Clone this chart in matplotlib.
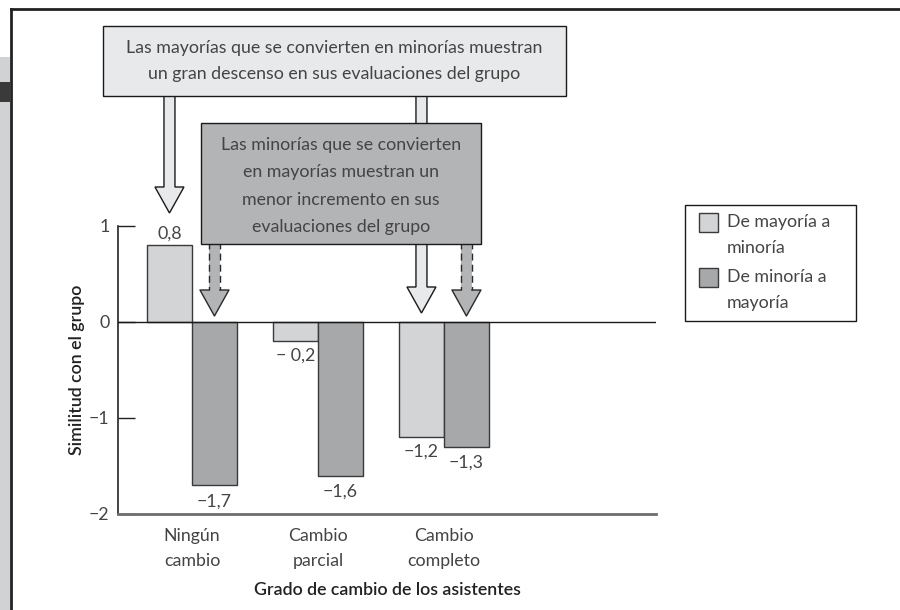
import numpy as np
import matplotlib.pyplot as plt
from matplotlib.patches import Rectangle, Polygon
from matplotlib.transforms import Affine2D
from matplotlib.lines import Line2D

plt.rcParams['font.family'] = ['Lato', 'DejaVu Sans']

# datos
categorias = ['Ningún\ncambio', 'Cambio\nparcial', 'Cambio\ncompleto']
series = ['De mayoría a\nminoría', 'De minoría a\nmayoría']
may_a_min = [0.8, -0.2, -1.2]
min_a_may = [-1.7, -1.6, -1.3]
etiq_may_a_min = ['0,8', '\u2212 0,2', '\u22121,2']
etiq_min_a_may = ['\u22121,7', '\u22121,6', '\u22121,3']
yticks = [-2, -1, 0, 1]
ytick_labels = ['\u22122', '\u22121', '0', '1']

texto_1 = ('Las mayorías que se convierten en minorías muestran\n'
           'un gran descenso en sus evaluaciones del grupo')
texto_2 = ('Las minorías que se convierten\nen mayorías muestran un\n'
           'menor incremento en sus\nevaluaciones del grupo')

LIGHT = '#d3d4d6'
DARK = '#a7a8aa'
BOX1 = '#e8e9ea'
BOX2 = '#b3b4b6'
EDGE = '#3a3a3a'
TXT = '#444444'
FS = 12.8

W, H = 900, 610
fig = plt.figure(figsize=(W / 100, H / 100), dpi=100)
# coordenadas en pixeles, y hacia abajo
pix = Affine2D().scale(1 / W, -1 / H).translate(0, 1) + fig.transFigure

ax = fig.add_axes([118 / W, 1 - 514 / H, 538 / W, 288 / H])
x = np.arange(len(categorias))
w = 0.357
ax.bar(x - w / 2, may_a_min, w, color=LIGHT, edgecolor=EDGE, lw=1, zorder=2)
ax.bar(x + w / 2, min_a_may, w, color=DARK, edgecolor=EDGE, lw=1, zorder=2)
ax.set_xlim(-0.587, 3.683)
ax.set_ylim(-2, 1)
ax.axhline(0, color='#1a1a1a', lw=1, zorder=3)

for xi, v, s in zip(x - w / 2, may_a_min, etiq_may_a_min):
    off = 8.5 if v > 0 else -10.5
    ax.annotate(s, (xi, v), xytext=(0, off), textcoords='offset points',
                ha='center', va='center', fontsize=FS, color=TXT)
for xi, v, s in zip(x + w / 2, min_a_may, etiq_min_a_may):
    ax.annotate(s, (xi, v), xytext=(0, -11.5), textcoords='offset points',
                ha='center', va='center', fontsize=FS, color=TXT)

for sp in ['top', 'right']:
    ax.spines[sp].set_visible(False)
ax.spines['left'].set_color('#222222')
ax.spines['left'].set_linewidth(1.2)
ax.spines['bottom'].set_color('#6e6e6e')
ax.spines['bottom'].set_linewidth(2)

ax.set_yticks(yticks)
ax.set_yticklabels(ytick_labels)
ax.tick_params(axis='y', direction='in', length=12, width=1, color='#222222',
               pad=6, labelsize=FS, labelcolor=TXT)
ax.set_xticks(x)
ax.set_xticklabels(categorias, linespacing=1.7)
ax.tick_params(axis='x', length=0, pad=10, labelsize=FS, labelcolor=TXT)
ax.set_xlabel('Grado de cambio de los asistentes', fontsize=FS,
              fontweight='semibold', color='#222222')
ax.xaxis.set_label_coords(0.5, -0.235)
ax.set_ylabel('Similitud con el grupo', fontsize=FS,
              fontweight='semibold', color='#222222')
ax.yaxis.set_label_coords(-0.062, 0.5)

# leyenda (el cuadro queda alineado con la primera linea de cada rotulo)
fig.add_artist(Rectangle((685, 205), 171, 116, transform=pix, facecolor='white',
                         edgecolor='#1a1a1a', lw=1, zorder=3))
for col, lab, yt in zip([LIGHT, DARK], series, [213, 268]):
    fig.add_artist(Rectangle((699, yt), 19, 19, transform=pix, facecolor=col,
                             edgecolor=EDGE, lw=1, zorder=3))
    fig.text(727, yt + 22, lab, transform=pix, ha='left', va='center',
             fontsize=FS, color=TXT, linespacing=1.75, zorder=3)


def px(xd):
    return ax.transData.transform((xd, 0))[0]


def flecha(xc, y0, ytip, fill, z, dashed=False):
    sw, hw, hl = 5.5, 14.5, 26
    yh = ytip - hl
    pts = [(xc - sw, y0), (xc + sw, y0), (xc + sw, yh), (xc + hw, yh),
           (xc, ytip), (xc - hw, yh), (xc - sw, yh)]
    if not dashed:
        fig.add_artist(Polygon(pts, closed=True, transform=pix, facecolor=fill,
                               edgecolor='#1a1a1a', lw=1, zorder=z))
        return
    fig.add_artist(Polygon(pts, closed=True, transform=pix, facecolor=fill,
                           edgecolor='none', zorder=z))
    for xs in (xc - sw, xc + sw):
        fig.add_artist(Line2D([xs, xs], [y0, yh], transform=pix, color='#2a2a2a',
                              lw=1, ls=(0, (5, 3)), zorder=z))
    cab = [(xc - sw, yh), (xc - hw, yh), (xc, ytip), (xc + hw, yh), (xc + sw, yh)]
    fig.add_artist(Line2D([p[0] for p in cab], [p[1] for p in cab],
                          transform=pix, color='#2a2a2a', lw=1, zorder=z))


# flechas del recuadro 1 (hacia las barras claras)
flecha(px(x[0] - w / 2), 94, 213, BOX1, 4)
flecha(px(x[2] - w / 2), 94, 313, BOX1, 4)
fig.add_artist(Rectangle((103, 26), 463, 70, transform=pix, facecolor=BOX1,
                         edgecolor='#1a1a1a', lw=1, zorder=5))
fig.text(334.5, 61, texto_1, transform=pix, ha='center', va='center',
         fontsize=FS, color=TXT, linespacing=1.7, zorder=5)

# flechas del recuadro 2 (hacia las barras oscuras)
flecha(px(x[0] + w / 2), 242, 316, BOX2, 6, dashed=True)
flecha(px(x[2] + w / 2), 242, 316, BOX2, 6, dashed=True)
fig.add_artist(Rectangle((201, 123), 280, 121, transform=pix, facecolor=BOX2,
                         edgecolor='#1a1a1a', lw=1, zorder=7))
fig.text(341, 186, texto_2, transform=pix, ha='center', va='center',
         fontsize=FS, color=TXT, linespacing=1.85, zorder=7)

# marco de la pagina
fig.add_artist(Rectangle((0, 57), 10, H - 57, transform=pix, facecolor='#d1d2d4',
                         lw=0, zorder=1))
fig.add_artist(Rectangle((0, 82), 10, 20, transform=pix, facecolor='#3a3a3a',
                         lw=0, zorder=1))
fig.add_artist(Line2D([11, W], [9, 9], transform=pix, color='#222222', lw=2))
fig.add_artist(Line2D([11, 11], [9, H], transform=pix, color='#222222', lw=2))

fig.savefig('out.png', dpi=100)
